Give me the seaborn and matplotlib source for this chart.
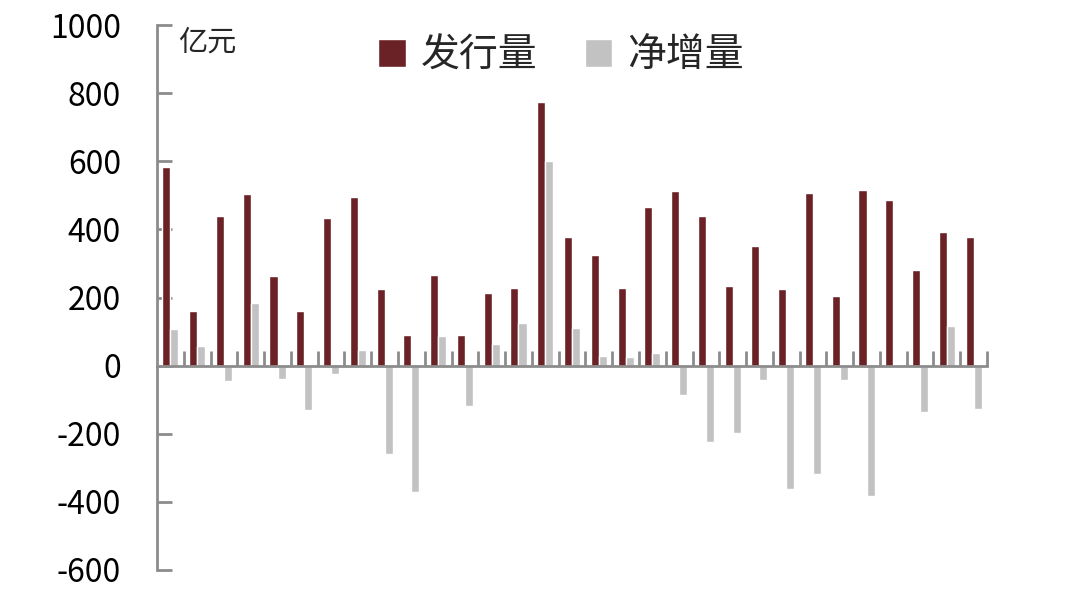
import numpy as np
import pandas as pd
import matplotlib
matplotlib.use('Agg')
import matplotlib.pyplot as plt
import seaborn as sns

# 发行量 / 净增量 (亿元), 31 periods
issue = [583, 162, 440, 503, 262, 160, 433, 494, 226, 90, 265, 90, 214, 229, 773, 377,
         324, 229, 467, 513, 440, 233, 351, 225, 508, 205, 516, 487, 280, 394, 378]
net = [109, 57, -44, 184, -38, -129, -23, 45, -259, -372, 86, -117, 64, 124, 601, 111,
       28, 25, 37, -85, -224, -199, -43, -363, -317, -43, -382, -4, -137, 117, -128]
series = ['发行量', '净增量']
yticks = [-600, -400, -200, 0, 200, 400, 600, 800, 1000]

n = len(issue)
df = pd.DataFrame({
    'idx': list(range(n)) * 2,
    'value': issue + net,
    'series': [series[0]] * n + [series[1]] * n,
})

sns.set_style('white')
plt.rcParams['font.family'] = ['Noto Sans CJK SC', 'DejaVu Sans']

red = '#6B2226'
gray = '#C2C2C2'
axis_c = '#8C8C8C'

fig = plt.figure(figsize=(10.8, 6), dpi=100)
ax = fig.add_axes([0.1454, 0.05, 0.7685, 0.908])

sns.barplot(data=df, x='idx', y='value', hue='series', palette=[red, gray],
            width=0.6, gap=0, saturation=1, ax=ax, legend=True)

ax.set_xlim(-0.5, n - 0.5)
ax.set_ylim(-600, 1000)
ax.set_yticks(yticks)
ax.set_yticklabels([str(v) for v in yticks], fontsize=23)
ax.set_xticks(np.arange(0.5, n, 1))
ax.set_xticklabels([])
ax.set_xlabel('')
ax.set_ylabel('')

for s in ['top', 'right']:
    ax.spines[s].set_visible(False)
ax.spines['bottom'].set_position(('data', 0))
for s in ['left', 'bottom']:
    ax.spines[s].set_color(axis_c)
    ax.spines[s].set_linewidth(2)
ax.tick_params(axis='y', left=True, direction='in', length=11, width=2, color=axis_c,
               pad=26, labelcolor='black')
ax.tick_params(axis='x', bottom=True, direction='in', length=11, width=2, color=axis_c)

ax.text(0.025, 0.995, '亿元', transform=ax.transAxes, fontsize=21, va='top', ha='left')

handles, labels = ax.get_legend_handles_labels()
ax.legend(handles, labels, loc='upper center', bbox_to_anchor=(0.487, 1.045), ncol=2,
          frameon=False, fontsize=28, handlelength=0.7, handleheight=0.7,
          handletextpad=0.4, columnspacing=1.2)

fig.savefig('out.png', dpi=100)
